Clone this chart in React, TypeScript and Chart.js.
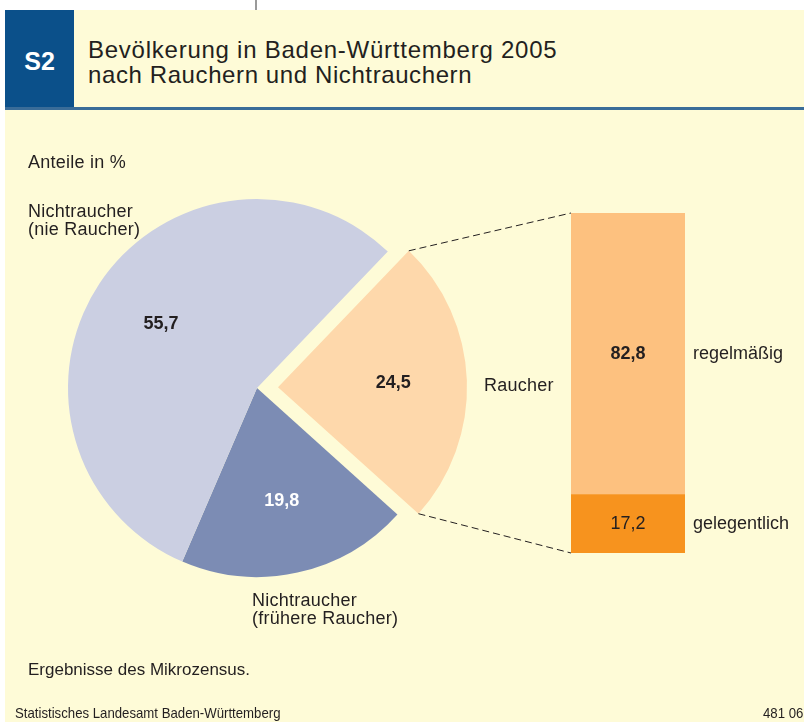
import React, { useEffect, useRef } from "react";
import { Chart, registerables } from "chart.js";

Chart.register(...registerables);

// ---- data ----
const pieLabels = ["Raucher", "Nichtraucher (frühere Raucher)", "Nichtraucher (nie Raucher)"];
const pieValues = [24.5, 19.8, 55.7];
const pieColors = ["#FED8AB", "#7C8CB4", "#CBCFE2"];
const pieValueColors = ["#231F20", "#FFFFFF", "#231F20"];
const pieOffsets = [84, 0, 0]; // Chart.js draws offset/4 px

const smokerCategory = ["Raucher"];
const smokerLabels = ["gelegentlich", "regelmäßig"];
const smokerValues = [17.2, 82.8];
const smokerColors = ["#F7931E", "#FDC17F"];
const smokerBold = [false, true];

const FONT = "'Liberation Sans', Arial, Helvetica, sans-serif";
const W = 804;
const H = 722;

const fmt = (v: number) => v.toFixed(1).replace(".", ",");

export default function App() {
  const pieRef = useRef<HTMLCanvasElement | null>(null);
  const barRef = useRef<HTMLCanvasElement | null>(null);

  useEffect(() => {
    document.body.style.margin = "0";
    const pieCanvas = pieRef.current!;
    const barCanvas = barRef.current!;

    const pieValuePlugin = {
      id: "pieValues",
      afterDatasetsDraw(chart: any) {
        const ctx = chart.ctx;
        const meta = chart.getDatasetMeta(0);
        ctx.save();
        ctx.font = `bold 18px ${FONT}`;
        ctx.textAlign = "center";
        ctx.textBaseline = "middle";
        meta.data.forEach((arc: any, i: number) => {
          const mid = (arc.startAngle + arc.endAngle) / 2;
          const off = (arc.options.offset || 0) / 4;
          const r = arc.outerRadius * 0.61 + off;
          ctx.fillStyle = pieValueColors[i];
          ctx.fillText(fmt(pieValues[i]), arc.x + Math.cos(mid) * r, arc.y + Math.sin(mid) * r);
        });
        ctx.restore();
      },
    };

    const pie = new Chart(pieCanvas, {
      type: "pie",
      data: {
        labels: pieLabels,
        datasets: [
          {
            data: pieValues,
            backgroundColor: pieColors,
            borderWidth: 0,
            offset: pieOffsets,
            hoverOffset: 0,
          } as any,
        ],
      },
      options: {
        animation: false,
        responsive: false,
        events: [],
        rotation: 43.8,
        radius: 189,
        layout: { padding: { left: 0, right: 290, top: 54, bottom: 0 } },
        plugins: { legend: { display: false }, tooltip: { enabled: false } },
      } as any,
      plugins: [pieValuePlugin],
    });

    const barPlugin = {
      id: "barDecor",
      afterDatasetsDraw(chart: any) {
        const ctx = chart.ctx;
        ctx.save();
        chart.data.datasets.forEach((_ds: any, i: number) => {
          const el: any = chart.getDatasetMeta(i).data[0];
          const cy = (el.y + el.base) / 2;
          ctx.fillStyle = "#231F20";
          ctx.textBaseline = "middle";
          ctx.textAlign = "center";
          ctx.font = `${smokerBold[i] ? "bold " : ""}18px ${FONT}`;
          ctx.fillText(fmt(smokerValues[i]), el.x, cy);
          ctx.textAlign = "left";
          ctx.font = `18px ${FONT}`;
          ctx.fillText(smokerLabels[i], el.x + el.width / 2 + 8, cy);
        });
        // connector lines from exploded slice to bar
        const arc: any = pie.getDatasetMeta(0).data[0];
        const mid = (arc.startAngle + arc.endAngle) / 2;
        const off = (arc.options.offset || 0) / 4;
        const cx = arc.x + Math.cos(mid) * off;
        const cyy = arc.y + Math.sin(mid) * off;
        const R = arc.outerRadius;
        const topEl: any = chart.getDatasetMeta(1).data[0];
        const botEl: any = chart.getDatasetMeta(0).data[0];
        ctx.strokeStyle = "#231F20";
        ctx.lineWidth = 1;
        ctx.setLineDash([7, 4]);
        ctx.beginPath();
        ctx.moveTo(cx + Math.cos(arc.startAngle) * R, cyy + Math.sin(arc.startAngle) * R);
        ctx.lineTo(topEl.x - topEl.width / 2, topEl.y);
        ctx.moveTo(cx + Math.cos(arc.endAngle) * R, cyy + Math.sin(arc.endAngle) * R);
        ctx.lineTo(botEl.x - botEl.width / 2, botEl.base);
        ctx.stroke();
        ctx.restore();
      },
    };

    const bar = new Chart(barCanvas, {
      type: "bar",
      data: {
        labels: smokerCategory,
        datasets: smokerLabels.map((l, i) => ({
          label: l,
          data: [smokerValues[i]],
          backgroundColor: smokerColors[i],
          borderWidth: 0,
          barPercentage: 1,
          categoryPercentage: 1,
        })),
      },
      options: {
        animation: false,
        responsive: false,
        events: [],
        layout: { padding: { left: 571, right: 119, top: 213, bottom: 169 } },
        scales: {
          x: { stacked: true, display: false },
          y: { stacked: true, display: false, min: 0, max: 100 },
        },
        plugins: { legend: { display: false }, tooltip: { enabled: false } },
      } as any,
      plugins: [barPlugin],
    });

    return () => {
      bar.destroy();
      pie.destroy();
    };
  }, []);

  const text = (s: string, left: number, top: number, fs: number, extra: any = {}) => (
    <div
      style={{
        position: "absolute",
        left,
        top,
        fontSize: fs,
        lineHeight: 1,
        whiteSpace: "nowrap",
        letterSpacing: "0.25px",
        ...extra,
      }}
    >
      {s}
    </div>
  );

  return (
    <div
      style={{
        position: "relative",
        width: W,
        height: H,
        background: "#FFFFFF",
        overflow: "hidden",
        fontFamily: FONT,
        color: "#231F20",
      }}
    >
      <div style={{ position: "absolute", left: 255, top: 0, width: 2, height: 10, background: "#9A9A9A" }} />
      <div style={{ position: "absolute", left: 5, top: 10, right: 0, bottom: 0, background: "#FEFBD7" }} />
      <div style={{ position: "absolute", left: 5, top: 10, width: 69, height: 97, background: "#0B508A" }} />
      <div style={{ position: "absolute", left: 5, top: 107, right: 0, height: 3, background: "#3A6C98" }} />
      {text("S2", 5, 49, 25, { width: 69, textAlign: "center", color: "#FFFFFF", fontWeight: "bold", letterSpacing: 0 })}
      {text("Bevölkerung in Baden-Württemberg 2005", 88, 38, 24, { letterSpacing: "0.75px" })}
      {text("nach Rauchern und Nichtrauchern", 88, 63, 24, { letterSpacing: "0.6px" })}

      <canvas ref={pieRef} width={W} height={H} style={{ position: "absolute", left: 0, top: 0, width: W, height: H }} />
      <canvas ref={barRef} width={W} height={H} style={{ position: "absolute", left: 0, top: 0, width: W, height: H }} />

      {text("Anteile in %", 28, 153, 18)}
      {text("Nichtraucher", 28, 201.5, 18)}
      {text("(nie Raucher)", 28, 220, 18)}
      {text("Nichtraucher", 252, 591, 18)}
      {text("(frühere Raucher)", 252, 609, 18)}
      {text("Raucher", 484, 375.5, 18)}
      {text("Ergebnisse des Mikrozensus.", 28, 660.5, 17, { letterSpacing: 0 })}
      {text("Statistisches Landesamt Baden-Württemberg", 15, 705.7, 14.5, {
        transform: "scaleX(0.91)",
        transformOrigin: "left top",
        letterSpacing: 0,
      })}
      {text("481 06", 0, 705.7, 14.5, {
        left: "auto",
        right: 1,
        transform: "scaleX(0.91)",
        transformOrigin: "right top",
        letterSpacing: 0,
      })}
    </div>
  );
}
